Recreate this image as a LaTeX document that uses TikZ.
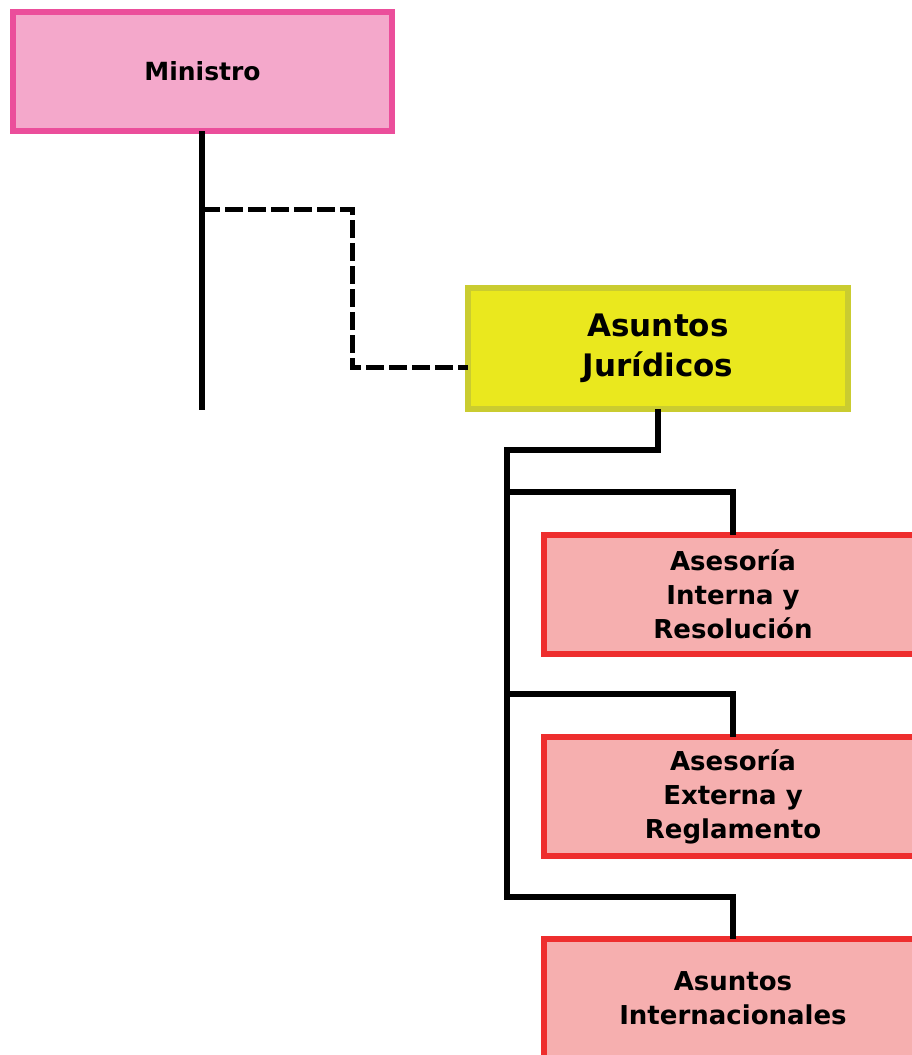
\documentclass[tikz,border=0pt]{standalone}
\usepackage{fontspec}
\setmainfont{DejaVu Sans}
\definecolor{minfill}{HTML}{F4A8CB}
\definecolor{minbord}{HTML}{EB4E9B}
\definecolor{yelfill}{HTML}{EAE81E}
\definecolor{yelbord}{HTML}{CACC30}
\definecolor{redfill}{HTML}{F6AFAF}
\definecolor{redbord}{HTML}{EE2E2E}
\tikzset{
  box/.style={rectangle, line width=6pt, align=center, font=\bfseries, inner sep=0pt, outer sep=0pt},
  minbox/.style={box, draw=minbord, fill=minfill, minimum width=379pt, minimum height=119pt, font=\bfseries\fontsize{25}{32}\selectfont},
  yelbox/.style={box, draw=yelbord, fill=yelfill, minimum width=380pt, minimum height=121pt, font=\bfseries\fontsize{31}{40}\selectfont},
  redbox/.style={box, draw=redbord, fill=redfill, minimum width=378pt, minimum height=119pt, font=\bfseries\fontsize{26}{34}\selectfont},
  conn/.style={line width=6pt, draw=black},
  dconn/.style={line width=5pt, draw=black, dash pattern=on 18pt off 5pt}
}
\begin{document}
\begin{tikzpicture}[x=1pt,y=-1pt]
\useasboundingbox (0,0) rectangle (912,1055);
\clip (0,0) rectangle (912,1055);
\node[minbox] (min) at (202.5,71.5) {Ministro};
\node[yelbox] (aj) at (658,348.5) {Asuntos\\Jurídicos};
\node[redbox] (r1) at (733,594.5) {Asesoría\\Interna y\\Resolución};
\node[redbox] (r2) at (733,796.5) {Asesoría\\Externa y\\Reglamento};
\node[redbox] (r3) at (733,998.5) {Asuntos\\Internacionales};
\coordinate (minend) at (202,410);
\coordinate (mj) at (202,209);
\coordinate (ajin) at (468,367);
\draw[conn] (min.south -| minend) -- (minend);
\draw[dconn] (mj) -- (352,209) -- (352,367) -- (ajin);
\coordinate (trunk) at (507,450);
\coordinate (trunkend) at (507,897);
\draw[conn] (aj.south) -- (658,450) -- (trunk) -- (trunkend) -| (r3.north);
\draw[conn] (507,492) -| (r1.north);
\draw[conn] (507,694) -| (r2.north);
\end{tikzpicture}
\end{document}
